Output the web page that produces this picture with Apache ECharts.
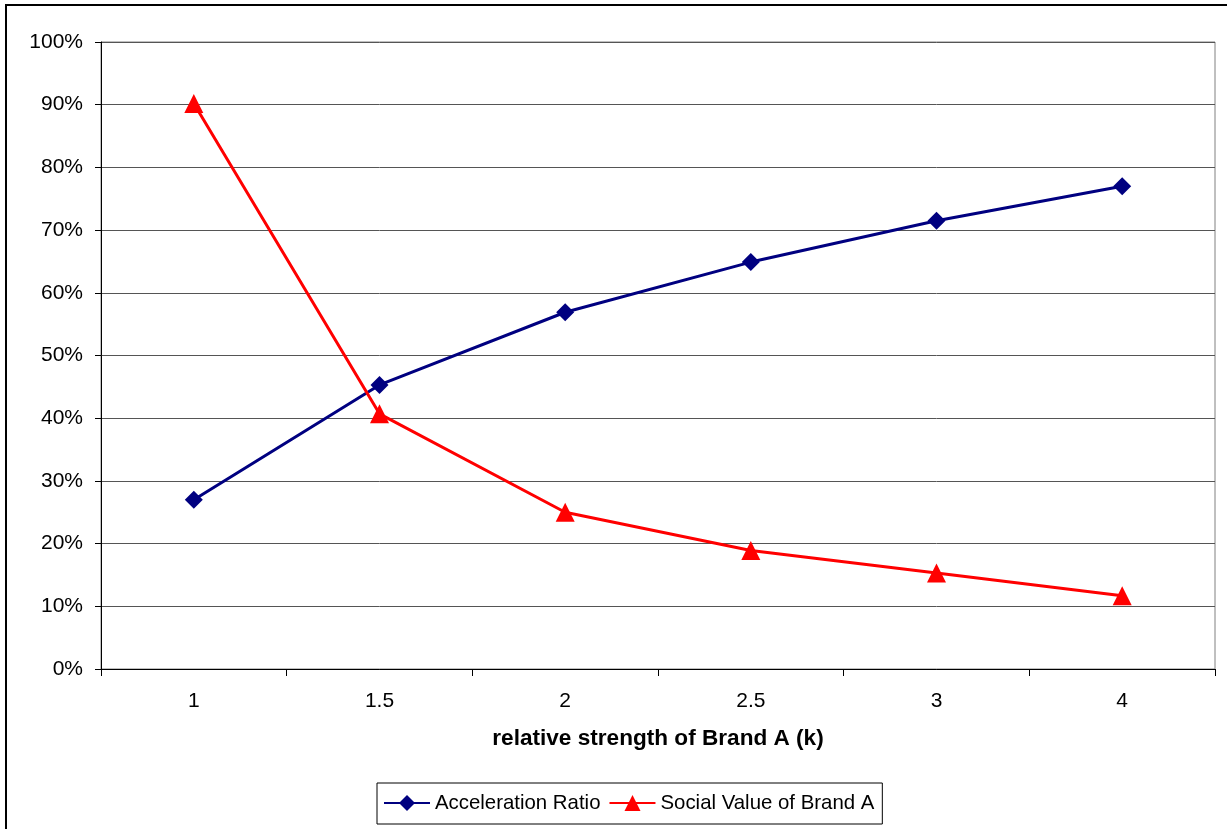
<!DOCTYPE html>
<html>
<head>
<meta charset="utf-8">
<script src="https://cdn.jsdelivr.net/npm/echarts@6/dist/echarts.min.js"></script>
<style>
  html, body { margin: 0; padding: 0; background: #fff; }
  #chart { width: 1227px; height: 829px; }
</style>
</head>
<body>
<div id="chart"></div>
<script>
const categories = ['1', '1.5', '2', '2.5', '3', '4']
const accelerationRatio = [27.0, 45.3, 56.9, 64.9, 71.5, 77.0]
const socialValue = [90.2, 40.7, 25.0, 18.9, 15.3, 11.7]
const yTicks = { min: 0, max: 100, interval: 10 }

const chart = echarts.init(document.getElementById('chart'))
const font = 'Arial, "Liberation Sans", sans-serif'

chart.setOption({
  backgroundColor: '#fff',
  animation: false,
  graphic: [{
    type: 'rect',
    shape: { x: 6, y: 5, width: 1260, height: 860 },
    style: { fill: 'none', stroke: '#000', lineWidth: 2 },
    z: -1
  }],
  grid: {
    left: 101,
    right: 12,
    top: 42,
    bottom: 160,
    show: true,
    borderColor: '#808080',
    borderWidth: 1
  },
  legend: {
    left: 377,
    top: 783,
    itemWidth: 46,
    itemHeight: 20,
    itemGap: 8,
    padding: [10, 8, 11, 6],
    borderColor: '#000',
    borderWidth: 1,
    textStyle: { fontFamily: font, fontSize: 20.4, color: '#000' },
    data: ['Acceleration Ratio', 'Social Value of Brand A']
  },
  xAxis: {
    type: 'category',
    data: categories,
    boundaryGap: true,
    name: 'relative strength of Brand A (k)',
    nameLocation: 'middle',
    nameGap: 58,
    nameTextStyle: { fontFamily: font, fontSize: 22.6, fontWeight: 'bold', color: '#000' },
    axisLine: { lineStyle: { color: '#000', width: 1 } },
    axisTick: { show: true, length: 7, lineStyle: { color: '#000' } },
    axisLabel: { fontFamily: font, fontSize: 21, color: '#000', margin: 22 },
    splitLine: { show: false }
  },
  yAxis: {
    type: 'value',
    min: yTicks.min,
    max: yTicks.max,
    interval: yTicks.interval,
    axisLine: { show: true, lineStyle: { color: '#000', width: 1 } },
    axisTick: { show: true, length: 6, lineStyle: { color: '#000' } },
    axisLabel: {
      fontFamily: font, fontSize: 21, color: '#000', margin: 18,
      formatter: (v) => v + '%'
    },
    splitLine: { lineStyle: { color: '#555', width: 1 } }
  },
  series: [
    {
      name: 'Acceleration Ratio',
      type: 'line',
      data: accelerationRatio,
      symbol: 'diamond',
      symbolSize: 18,
      lineStyle: { color: '#000080', width: 3 },
      itemStyle: { color: '#000080' }
    },
    {
      name: 'Social Value of Brand A',
      type: 'line',
      data: socialValue,
      symbol: 'triangle',
      symbolSize: 19,
      lineStyle: { color: '#ff0000', width: 3 },
      itemStyle: { color: '#ff0000' }
    }
  ]
})
</script>
</body>
</html>
